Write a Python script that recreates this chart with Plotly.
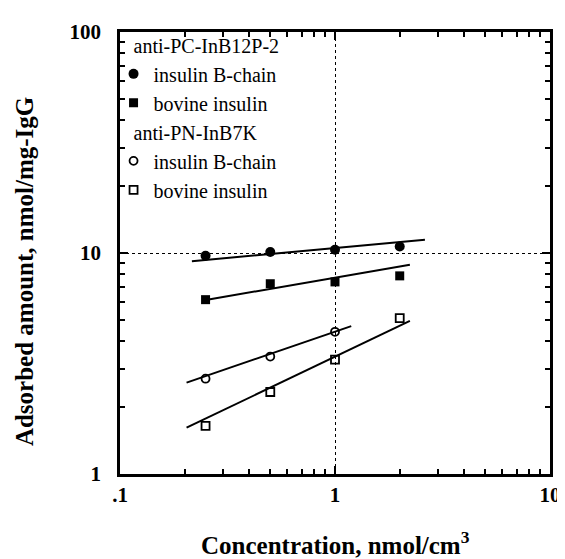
import plotly.graph_objects as go

# ---- data ----
conc = [0.25, 0.5, 1.0, 2.0]
conc_pn_bchain = [0.25, 0.5, 1.0]

pc_bchain = [9.72, 10.1, 10.35, 10.7]     # anti-PC-InB12P-2, insulin B-chain
pc_bovine = [6.15, 7.26, 7.40, 7.88]      # anti-PC-InB12P-2, bovine insulin
pn_bchain = [2.70, 3.40, 4.40]            # anti-PN-InB7K, insulin B-chain
pn_bovine = [1.65, 2.35, 3.29, 5.07]      # anti-PN-InB7K, bovine insulin

# fitted straight lines (end points)
fit_pc_bchain_x = [0.216, 2.62]
fit_pc_bchain_y = [9.18, 11.47]
fit_pc_bovine_x = [0.243, 2.23]
fit_pc_bovine_y = [6.10, 8.84]
fit_pn_bchain_x = [0.204, 1.19]
fit_pn_bchain_y = [2.59, 4.67]
fit_pn_bovine_x = [0.204, 2.23]
fit_pn_bovine_y = [1.62, 4.93]

x_tickvals = [0.1, 1, 10]
x_ticktext = [".1", "1", "10"]
y_tickvals = [1, 10, 100]
y_ticktext = ["1", "10", "100"]
x_minor = [0.2, 0.3, 0.4, 0.5, 0.6, 0.7, 0.8, 0.9, 2, 3, 4, 5, 6, 7, 8, 9]
y_minor = [2, 3, 4, 5, 6, 7, 8, 9, 20, 30, 40, 50, 60, 70, 80, 90]

group1 = "anti-PC-InB12P-2"
group2 = "anti-PN-InB7K"
label_b = "insulin B-chain"
label_bov = "bovine insulin"

FONT = "Liberation Serif, Times New Roman, serif"
PAD = "\u00a0\u00a0\u00a0"

fig = go.Figure()

line_style = dict(color="black", width=2)
for fx, fy in [(fit_pc_bchain_x, fit_pc_bchain_y), (fit_pc_bovine_x, fit_pc_bovine_y),
               (fit_pn_bchain_x, fit_pn_bchain_y), (fit_pn_bovine_x, fit_pn_bovine_y)]:
    fig.add_trace(go.Scatter(x=fx, y=fy, mode="lines", line=line_style,
                             showlegend=False, hoverinfo="skip"))

fig.add_trace(go.Scatter(x=conc, y=pc_bchain, mode="markers", name=label_b,
                         legendgroup="g1", legendgrouptitle=dict(text=PAD + group1),
                         marker=dict(symbol="circle", size=10, color="black")))
fig.add_trace(go.Scatter(x=conc, y=pc_bovine, mode="markers", name=label_bov,
                         legendgroup="g1",
                         marker=dict(symbol="square", size=9, color="black")))
fig.add_trace(go.Scatter(x=conc_pn_bchain, y=pn_bchain, mode="markers", name=label_b,
                         legendgroup="g2", legendgrouptitle=dict(text=PAD + group2),
                         marker=dict(symbol="circle-open", size=8, color="black",
                                     line=dict(width=1.8, color="black"))))
fig.add_trace(go.Scatter(x=conc, y=pn_bovine, mode="markers", name=label_bov,
                         legendgroup="g2",
                         marker=dict(symbol="square-open", size=8, color="black",
                                     line=dict(width=1.8, color="black"))))

axis_common = dict(
    type="log", showline=True, linewidth=2.5, linecolor="black", mirror="allticks",
    ticks="inside", ticklen=8, tickwidth=2, tickcolor="black",
    showgrid=True, gridcolor="black", gridwidth=1, griddash="dot",
    zeroline=False,
    tickfont=dict(family=FONT, size=21, color="black", weight="bold"),
    minor=dict(ticks="inside", ticklen=5, tickwidth=2, tickcolor="black", showgrid=False),
)

fig.update_xaxes(range=[-1, 1], tickvals=x_tickvals, ticktext=x_ticktext,
                 minor_tickvals=x_minor, ticklabelstandoff=0, **axis_common)
fig.update_yaxes(range=[0, 2], tickvals=y_tickvals, ticktext=y_ticktext,
                 minor_tickvals=y_minor, ticklabelstandoff=12, **axis_common)

fig.add_annotation(text="Adsorbed amount, nmol/mg-IgG", xref="paper", yref="paper",
                   x=-0.222, y=0.458, xanchor="center", yanchor="middle",
                   textangle=-90, showarrow=False,
                   font=dict(family=FONT, size=25, color="black", weight="bold"))
fig.add_annotation(text="Concentration, nmol/cm<sup>3</sup>", xref="paper", yref="paper",
                   x=0.5, y=-0.155, xanchor="center", yanchor="middle",
                   showarrow=False,
                   font=dict(family=FONT, size=25, color="black", weight="bold"))

fig.update_layout(
    width=565, height=559,
    margin=dict(l=112, r=13, t=20, b=93),
    plot_bgcolor="white", paper_bgcolor="white",
    font=dict(family=FONT, color="black"),
    legend=dict(x=-0.015, y=1.015, xanchor="left", yanchor="top",
                bgcolor="rgba(0,0,0,0)", borderwidth=0,
                font=dict(family=FONT, size=20, color="black"),
                grouptitlefont=dict(family=FONT, size=20, color="black"),
                tracegroupgap=0, itemwidth=30),
)

fig.write_html("out.html")
